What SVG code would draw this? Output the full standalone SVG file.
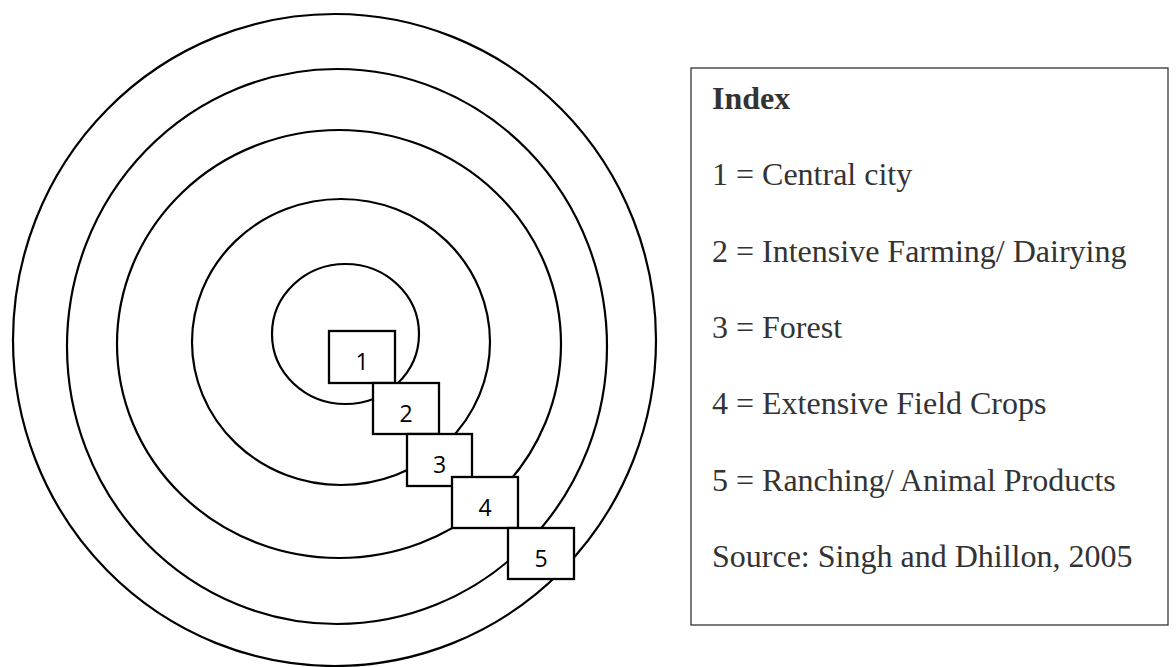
<svg xmlns="http://www.w3.org/2000/svg" width="1176" height="667" viewBox="0 0 1176 667">
<style>
.ring{fill:none;stroke:#000;stroke-width:2.2}
.box{fill:#fff;stroke:#000;stroke-width:2.3}
.num{font-family:"Open Sans","Liberation Sans",sans-serif;font-size:23px;fill:#000;text-anchor:middle}
.leg{font-family:"Liberation Serif","Times New Roman",serif;font-size:32px;fill:#333}
.legbox{fill:#fff;stroke:#333;stroke-width:1.3}
</style>
<rect width="1176" height="667" fill="#fff"/>
<g id="rings">
<ellipse class="ring" cx="334.5" cy="340" rx="321.5" ry="326"/>
<ellipse class="ring" cx="337" cy="346.5" rx="270" ry="277.5"/>
<ellipse class="ring" cx="339" cy="344" rx="222" ry="214"/>
<ellipse class="ring" cx="341" cy="342" rx="149" ry="143"/>
<ellipse class="ring" cx="345.5" cy="334" rx="73.5" ry="70"/>
</g>
<g id="connectors"></g>
<g id="node1"><rect class="box" x="329" y="331" width="66" height="52"/><text class="num" x="362" y="370">1</text></g>
<g id="node2"><rect class="box" x="373" y="383" width="66" height="51"/><text class="num" x="406" y="422">2</text></g>
<g id="node3"><rect class="box" x="407" y="434" width="65" height="52"/><text class="num" x="439.5" y="473">3</text></g>
<g id="node4"><rect class="box" x="452" y="477" width="66" height="51"/><text class="num" x="485" y="516">4</text></g>
<g id="node5"><rect class="box" x="508" y="528" width="66" height="51"/><text class="num" x="541" y="567">5</text></g>
<g id="legend">
<rect class="legbox" x="691" y="68" width="477" height="557"/>
<text class="leg" x="712" y="109" font-weight="bold">Index</text>
<text class="leg" x="712" y="185">1 = Central city</text>
<text class="leg" x="712" y="262">2 = Intensive Farming/ Dairying</text>
<text class="leg" x="712" y="338">3 = Forest</text>
<text class="leg" x="712" y="414">4 = Extensive Field Crops</text>
<text class="leg" x="712" y="491">5 = Ranching/ Animal Products</text>
<text class="leg" x="712" y="567">Source: Singh and Dhillon, 2005</text>
</g>
</svg>
